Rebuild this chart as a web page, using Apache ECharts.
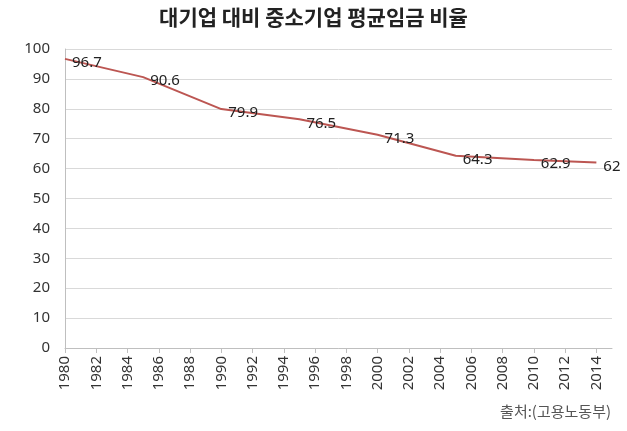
<!DOCTYPE html>
<html><head><meta charset="utf-8">
<script src="https://cdn.jsdelivr.net/npm/echarts@6/dist/echarts.min.js"></script>
<style>html,body{margin:0;padding:0;background:#fff}#c{width:627px;height:431px}</style>
</head><body><div id="c"></div>
<script>
const years = [];
for (let y = 1980; y <= 2015; y++) years.push(String(y));
const pointYears = ['1980','1985','1990','1995','2000','2005','2010','2014'];
const pointValues = [96.7, 90.6, 79.9, 76.5, 71.3, 64.3, 62.9, 62];
const yTicks = [0,10,20,30,40,50,60,70,80,90,100];
const titleText = '대기업 대비 중소기업 평균임금 비율';
const sourceText = '출처:(고용노동부)';

const seriesData = years.map(y => {
  const i = pointYears.indexOf(y);
  return i >= 0 ? pointValues[i] : null;
});

const chart = echarts.init(document.getElementById('c'));
chart.setOption({
  animation: false,
  backgroundColor: '#fff',
  title: {
    text: titleText, left: 'center', top: 2,
    textStyle: { fontFamily: 'Noto Sans CJK KR', fontSize: 21, fontWeight: 'bold', color: '#222' }
  },
  graphic: [{
    type: 'text', right: 16, top: 404,
    style: { text: sourceText, fontFamily: 'Noto Sans CJK KR', fontSize: 15, fill: '#555' }
  }],
  grid: { left: 65, right: 15, top: 49, bottom: 83 },
  xAxis: {
    type: 'category', data: years, boundaryGap: false,
    axisLine: { lineStyle: { color: '#bfbfbf' } },
    axisTick: { interval: 1, length: 5, lineStyle: { color: '#bfbfbf' } },
    axisLabel: { interval: 1, rotate: 90, fontSize: 15, color: '#333', fontFamily: 'Noto Sans', margin: 8 }
  },
  yAxis: {
    type: 'value', min: 0, max: 100, interval: 10,
    axisLine: { show: true, lineStyle: { color: '#bfbfbf' } },
    axisTick: { show: false },
    splitLine: { lineStyle: { color: '#d9d9d9' } },
    axisLabel: { fontSize: 15, color: '#333', fontFamily: 'Noto Sans', margin: 15 }
  },
  series: [{
    type: 'line', data: seriesData, connectNulls: true,
    symbol: 'circle', symbolSize: 2, showSymbol: true, showAllSymbol: true,
    itemStyle: { color: 'rgba(185,83,79,0)', borderWidth: 0 },
    lineStyle: { color: '#bc5652', width: 2 },
    label: {
      show: true, position: 'right', distance: 6, offset: [0, 4],
      fontSize: 15, color: '#222', fontFamily: 'Noto Sans'
    }
  }]
});
</script></body></html>
